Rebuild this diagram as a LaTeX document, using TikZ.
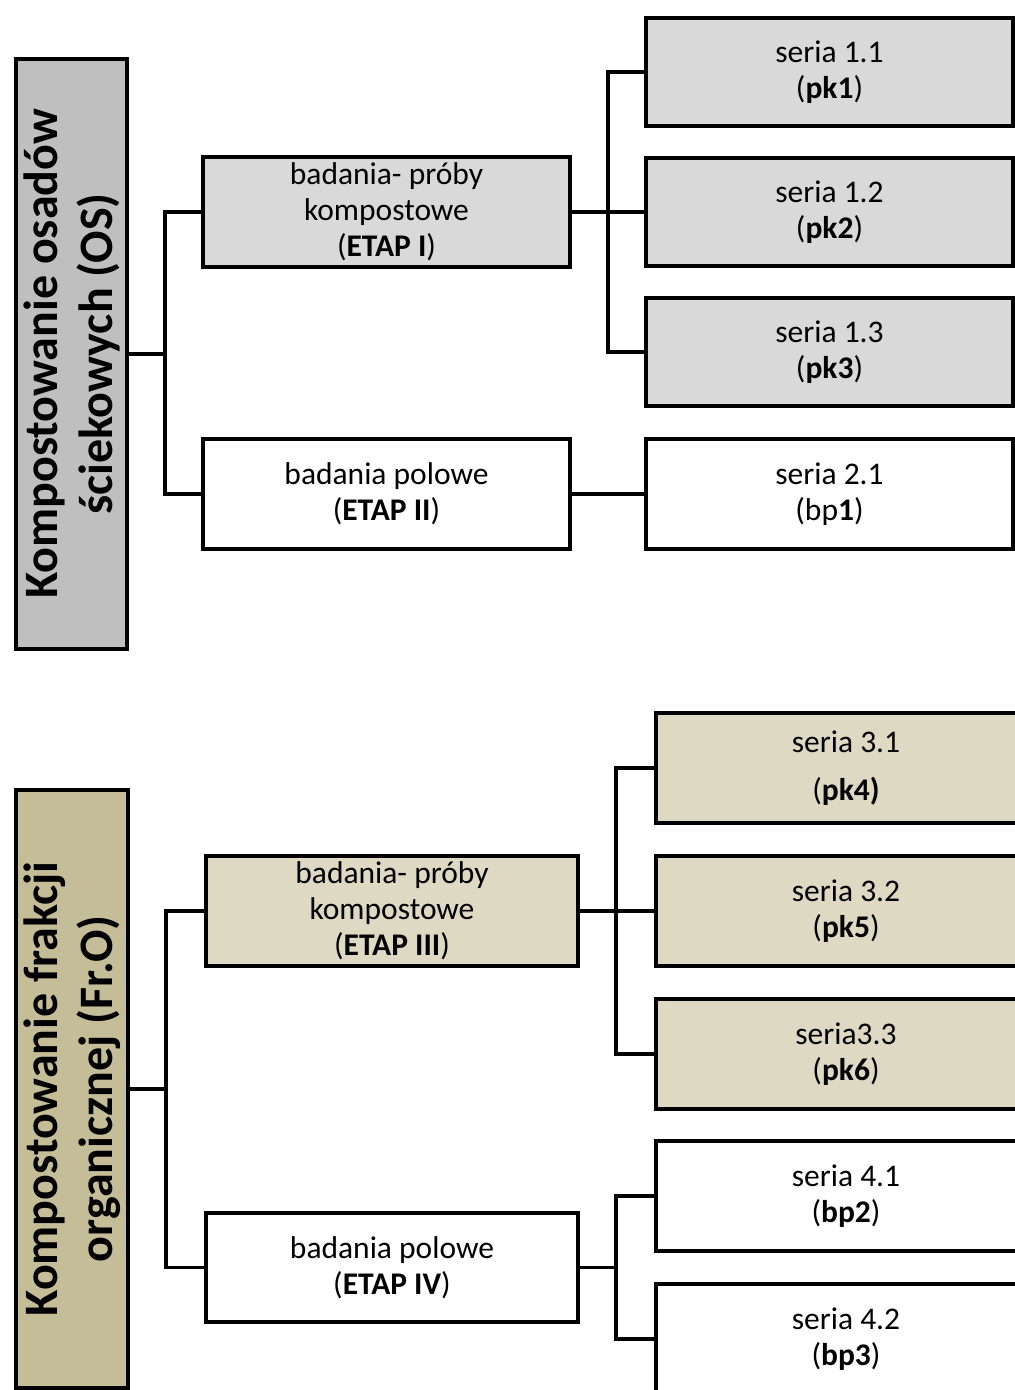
\documentclass[tikz,border=0pt]{standalone}
\usepackage{fontspec}
\setmainfont{Carlito}
\definecolor{grA}{HTML}{BFBFBF}
\definecolor{grB}{HTML}{D9D9D9}
\definecolor{olA}{HTML}{C4BD97}
\definecolor{olB}{HTML}{DDD9C3}
\begin{document}
\begin{tikzpicture}[x=1pt,y=-1pt,
  box/.style={draw=black, line width=4pt, inner sep=0pt, align=center,
    font=\fontsize{31.5}{36}\selectfont, anchor=north west},
  sidetxt/.style={rotate=90, align=center, inner sep=0pt,
    font=\fontsize{48}{55}\selectfont\bfseries},
  con/.style={line width=3.2pt}]
\useasboundingbox (0,0) rectangle (1015,1390);
\clip (0,0) rectangle (1015,1390);

% ---------- top group ----------
\node[box, fill=grA, minimum width=111pt, minimum height=590pt] (A) at (14,57) {};
\node[sidetxt] (At) at (A.center) {Kompostowanie osadów\\ściekowych (OS)};
\node[box, fill=grB, minimum width=367pt, minimum height=110pt] (B1) at (201,155)
  {badania- próby\\kompostowe\\(\textbf{ETAP I})};
\node[box, fill=white, minimum width=367pt, minimum height=110pt] (B2) at (201,437)
  {badania polowe\\(\textbf{ETAP II})};
\node[box, fill=grB, minimum width=367pt, minimum height=108pt] (C1) at (644,16)
  {seria 1.1\\(\textbf{pk1})};
\node[box, fill=grB, minimum width=367pt, minimum height=108pt] (C2) at (644,156)
  {seria 1.2\\(\textbf{pk2})};
\node[box, fill=grB, minimum width=367pt, minimum height=108pt] (C3) at (644,296)
  {seria 1.3\\(\textbf{pk3})};
\node[box, fill=white, minimum width=367pt, minimum height=110pt] (C4) at (644,437)
  {seria 2.1\\(bp\textbf{1})};

\coordinate (j1) at ([xshift=36pt]A.east);
\draw[con] (A.east) -- (j1);
\draw[con] (B1.west) -| (j1) |- (B2.west);
\coordinate (j2) at ([xshift=36pt]B1.east);
\draw[con] (B1.east) -- (j2);
\draw[con] (C1.west) -| (j2) |- (C3.west);
\draw[con] (j2) -- (C2.west);
\draw[con] (B2.east) -- (C4.west);

% ---------- bottom group ----------
\node[box, fill=olA, minimum width=112pt, minimum height=598pt] (D) at (14,788) {};
\node[sidetxt] (Dt) at (D.center) {Kompostowanie frakcji\\organicznej (Fr.O)};
\node[box, fill=olB, minimum width=372pt, minimum height=110pt] (E1) at (204,854)
  {badania- próby\\kompostowe\\(\textbf{ETAP III})};
\node[box, fill=white, minimum width=372pt, minimum height=109pt] (E2) at (204,1211)
  {badania polowe\\(\textbf{ETAP IV})};
\node[box, fill=olB, minimum width=380pt, minimum height=110pt] (F1) at (654,711)
  {seria 3.1\\[12pt](\textbf{pk4)}};
\node[box, fill=olB, minimum width=380pt, minimum height=110pt] (F2) at (654,854)
  {seria 3.2\\(\textbf{pk5})};
\node[box, fill=olB, minimum width=380pt, minimum height=110pt] (F3) at (654,997)
  {seria3.3\\(\textbf{pk6})};
\node[box, fill=white, minimum width=380pt, minimum height=110pt] (F4) at (654,1139)
  {seria 4.1\\(\textbf{bp2})};
\node[box, fill=white, minimum width=380pt, minimum height=110pt] (F5) at (654,1282)
  {seria 4.2\\(\textbf{bp3})};

\coordinate (k1) at ([xshift=36pt]D.east);
\draw[con] (D.east) -- (k1);
\draw[con] (E1.west) -| (k1) |- (E2.west);
\coordinate (k2) at ([xshift=36pt]E1.east);
\draw[con] (E1.east) -- (k2);
\draw[con] (F1.west) -| (k2) |- (F3.west);
\draw[con] (k2) -- (F2.west);
\coordinate (k3) at ([xshift=36pt]E2.east);
\draw[con] (E2.east) -- (k3);
\draw[con] (F4.west) -| (k3) |- (F5.west);
\end{tikzpicture}
\end{document}
